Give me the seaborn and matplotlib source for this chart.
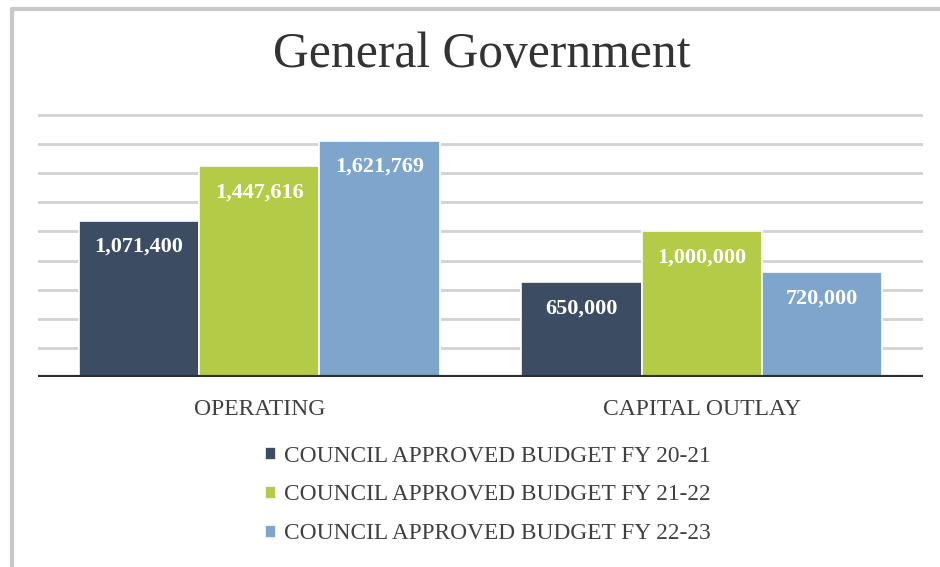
import matplotlib
matplotlib.use("Agg")
import matplotlib.pyplot as plt
from matplotlib.lines import Line2D
import seaborn as sns
import pandas as pd

categories = ["OPERATING", "CAPITAL OUTLAY"]
series_names = [
    "COUNCIL APPROVED BUDGET FY 20-21",
    "COUNCIL APPROVED BUDGET FY 21-22",
    "COUNCIL APPROVED BUDGET FY 22-23",
]
fy_20_21 = [1071400, 650000]
fy_21_22 = [1447616, 1000000]
fy_22_23 = [1621769, 720000]
colors = ["#3C4D63", "#B4CB47", "#7EA5CC"]
gridlines = [200000, 400000, 600000, 800000, 1000000, 1200000, 1400000, 1600000, 1800000]

rows = []
for name, vals in zip(series_names, [fy_20_21, fy_21_22, fy_22_23]):
    for cat, v in zip(categories, vals):
        rows.append({"category": cat, "series": name, "value": v})
df = pd.DataFrame(rows)

sns.set_theme(style="white")
plt.rcParams["font.family"] = ["Liberation Serif", "DejaVu Serif"]

fig = plt.figure(figsize=(9.4, 5.67), dpi=100)
ax = fig.add_axes([0.0404, 0.335, 0.9415, 0.475])

sns.barplot(data=df, x="category", y="value", hue="series", order=categories,
            hue_order=series_names, palette=colors, width=0.815, ax=ax,
            edgecolor="white", linewidth=1.2, saturation=1, legend=True,
            errorbar=None)

ax.set_xlim(-0.5, 1.5)
ax.set_ylim(0, 1850000)
for g in gridlines:
    ax.axhline(g, color="#D2D2D2", lw=2, zorder=0)
ax.axhline(0, color="#2E2E2E", lw=3, zorder=3)

for spine in ax.spines.values():
    spine.set_visible(False)
ax.set_yticks([])
ax.set_xlabel("")
ax.set_ylabel("")
ax.tick_params(axis="x", length=0, pad=16, labelsize=17, labelcolor="#404040")

# value labels inside the top of each bar
for container in ax.containers:
    for bar, val in zip(container.patches, container.datavalues):
        ax.annotate(f"{val:,.0f}", (bar.get_x() + bar.get_width() / 2, val),
                    xytext=(0, -26), textcoords="offset pixels",
                    ha="center", va="center", color="white",
                    fontsize=16, fontweight="bold", zorder=5)

handles, labels = ax.get_legend_handles_labels()
ax.get_legend().remove()
fig.legend(handles, labels, loc="center", bbox_to_anchor=(0.519, 1 - 495 / 567),
           frameon=False, fontsize=16.8, labelcolor="#404040",
           handlelength=0.5, handleheight=0.5, handletextpad=0.35,
           labelspacing=0.77)

fig.text(0.512, 1 - 55 / 567, "General Government", ha="center", va="center",
         fontsize=35.7, color="#333333")

# outer chart border
fig.add_artist(Line2D([12 / 940, 1.0], [1 - 9 / 567, 1 - 9 / 567],
                      transform=fig.transFigure, color="#C8C8C8", lw=3))
fig.add_artist(Line2D([12 / 940, 12 / 940], [0.0, 1 - 9 / 567],
                      transform=fig.transFigure, color="#C8C8C8", lw=3))

fig.savefig("out.png", dpi=100, facecolor="white")
